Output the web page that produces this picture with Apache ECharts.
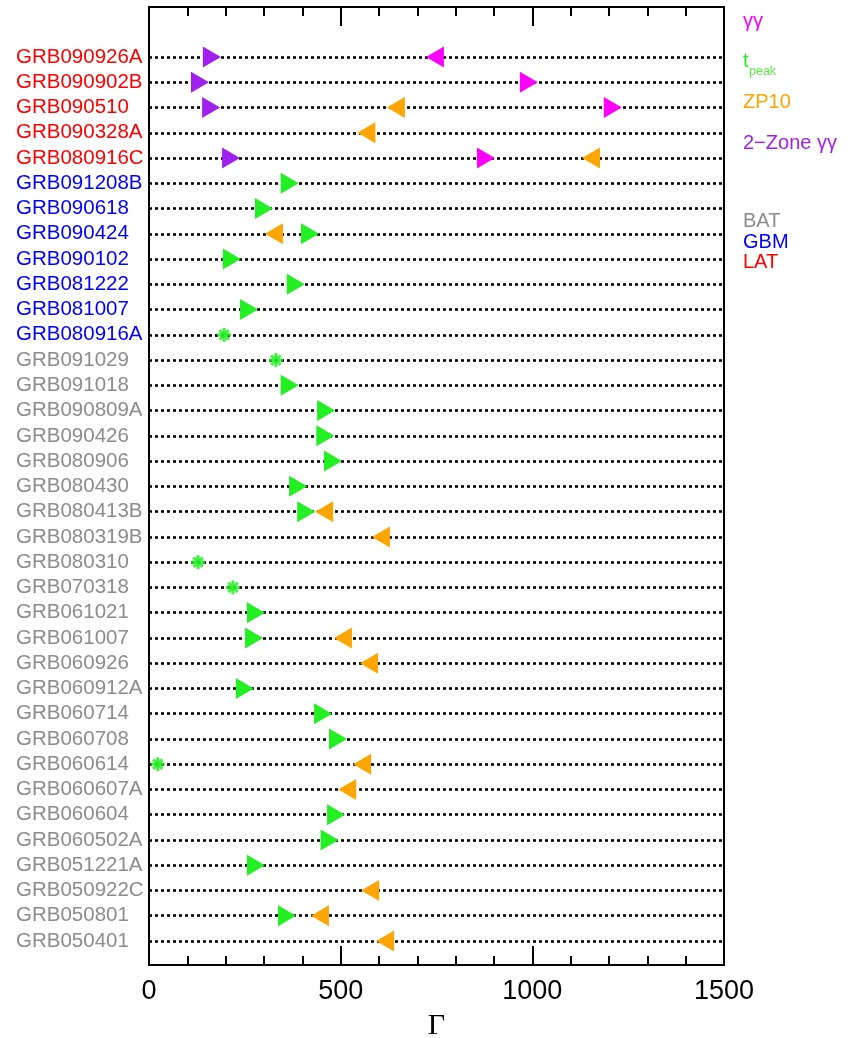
<!DOCTYPE html>
<html>
<head>
<meta charset="utf-8">
<script src="https://cdn.jsdelivr.net/npm/echarts@6/dist/echarts.min.js"></script>
<style>
html,body{margin:0;padding:0;background:#fff;}
#c{width:850px;height:1038px;}
</style>
</head>
<body>
<div id="c"></div>
<script>
// ---- data ----
const grbs = ['GRB090926A','GRB090902B','GRB090510','GRB090328A','GRB080916C',
  'GRB091208B','GRB090618','GRB090424','GRB090102','GRB081222','GRB081007','GRB080916A',
  'GRB091029','GRB091018','GRB090809A','GRB090426','GRB080906','GRB080430','GRB080413B',
  'GRB080319B','GRB080310','GRB070318','GRB061021','GRB061007','GRB060926','GRB060912A',
  'GRB060714','GRB060708','GRB060614','GRB060607A','GRB060604','GRB060502A','GRB051221A',
  'GRB050922C','GRB050801','GRB050401'];
const instrument = ['LAT','LAT','LAT','LAT','LAT',
  'GBM','GBM','GBM','GBM','GBM','GBM','GBM',
  'BAT','BAT','BAT','BAT','BAT','BAT','BAT','BAT','BAT','BAT','BAT','BAT','BAT','BAT',
  'BAT','BAT','BAT','BAT','BAT','BAT','BAT','BAT','BAT','BAT'];
const instrumentColor = {BAT:'#8c8c8c', GBM:'#0000ff', LAT:'#ff0000'};

// gamma-gamma: lower limits (right-pointing) and upper limits (left-pointing)
const ggLower = [['GRB090902B',991],['GRB090510',1210],['GRB080916C',879]];
const ggUpper = [['GRB090926A',746]];
// t_peak: lower limits and measurements
const tpeakLower = [['GRB091208B',367],['GRB090618',300],['GRB090424',420],['GRB090102',216],
  ['GRB081222',383],['GRB081007',261],['GRB091018',367],['GRB090809A',462],['GRB090426',460],
  ['GRB080906',480],['GRB080430',389],['GRB080413B',410],['GRB061021',279],['GRB061007',274],
  ['GRB060912A',250],['GRB060714',454],['GRB060708',493],['GRB060604',488],['GRB060502A',471],
  ['GRB051221A',279],['GRB050801',360]];
const tpeakValue = [['GRB080916A',196],['GRB091029',331],['GRB080310',128],['GRB070318',219],['GRB060614',23]];
// ZP10 upper limits
const zp10Upper = [['GRB090510',644],['GRB090328A',567],['GRB080916C',1153],['GRB090424',326],
  ['GRB080413B',457],['GRB080319B',605],['GRB061007',506],['GRB060926',574],['GRB060614',556],
  ['GRB060607A',517],['GRB050922C',577],['GRB050801',446],['GRB050401',616]];
// 2-zone gamma-gamma lower limits
const zone2Lower = [['GRB090926A',164],['GRB090902B',133],['GRB090510',162],['GRB080916C',214]];

const xTicks = [0, 500, 1000, 1500];

// ---- chart ----
const C_GG = '#ff00ff', C_TP = '#22f022', C_ZP = '#ffa500', C_2Z = '#a020f0';
const FONT = 'Liberation Sans, Arial, Helvetica, sans-serif';
const asterisk = 'path://M0,4.1L10,4.1L10,5.9L0,5.9Z M4.1,0L5.9,0L5.9,10L4.1,10Z M0.9,2.2L2.2,0.9L9.1,7.8L7.8,9.1Z M7.8,0.9L9.1,2.2L2.2,9.1L0.9,7.8Z';

function toPts(arr){ return arr.map(d => [d[1], d[0]]); }
function tri(name, arr, color, right){
  return {
    name: name, type: 'scatter', xAxisIndex: 2, yAxisIndex: 1,
    data: toPts(arr), symbol: 'triangle', symbolSize: [21, 18],
    symbolRotate: right ? -90 : 90,
    itemStyle: {color: color, opacity: 1}, z: 5, silent: true
  };
}

const chart = echarts.init(document.getElementById('c'), null, {renderer: 'canvas'});
const tickCommon = {
  min: 0, max: 1500, interval: 500,
  axisLine: {show: false},
  axisTick: {show: true, inside: true, length: 19, lineStyle: {color: '#000', width: 2}},
  minorTick: {show: true, splitNumber: 5, length: 9, lineStyle: {color: '#000', width: 2}},
  splitLine: {show: false}
};
chart.setOption({
  animation: false,
  backgroundColor: '#fff',
  grid: [
    {left: 149, right: 126, top: 7, bottom: 73, show: true, borderColor: '#000', borderWidth: 2,
      backgroundColor: 'transparent', containLabel: false, outerBoundsMode: 'none'},
    {left: 149, right: 126, top: 57, bottom: 97, containLabel: false, outerBoundsMode: 'none'}
  ],
  xAxis: [
    Object.assign({type: 'value', gridIndex: 0, position: 'bottom',
      axisLabel: {show: true, fontSize: 27, color: '#000', fontFamily: FONT, margin: 13,
        formatter: v => xTicks.indexOf(v) >= 0 ? String(v) : ''},
      name: 'Γ', nameLocation: 'middle', nameGap: 46,
      nameTextStyle: {fontSize: 30, color: '#000', fontFamily: 'Liberation Serif, Times New Roman, serif'}
    }, tickCommon),
    Object.assign({type: 'value', gridIndex: 0, position: 'top', axisLabel: {show: false}}, tickCommon),
    {type: 'value', gridIndex: 1, min: 0, max: 1500, show: false}
  ],
  yAxis: [
    {type: 'value', gridIndex: 0, show: false, min: 0, max: 1},
    {type: 'category', gridIndex: 1, data: grbs, inverse: true, boundaryGap: false,
      axisLine: {show: false}, axisTick: {show: false},
      splitLine: {show: true, lineStyle: {color: '#000', width: 2.6, type: [3, 3]}},
      axisLabel: {show: true, interval: 0, align: 'left', margin: 133, fontSize: 20.5,
        fontFamily: FONT, padding: [0, 0, 14, 0],
        color: (v, i) => instrumentColor[instrument[grbs.indexOf(v)]]}
    }
  ],
  series: [
    tri('γγ', ggLower, C_GG, true),
    tri('γγ up', ggUpper, C_GG, false),
    tri('tpeak', tpeakLower, C_TP, true),
    {name: 'tpeak meas', type: 'scatter', xAxisIndex: 2, yAxisIndex: 1, data: toPts(tpeakValue),
      symbol: asterisk, symbolSize: 13, itemStyle: {color: C_TP, borderColor: C_TP, borderWidth: 0.8}, z: 5, silent: true},
    tri('ZP10', zp10Upper, C_ZP, false),
    tri('2-Zone', zone2Lower, C_2Z, true)
  ],
  graphic: [
    {type: 'text', left: 743, top: 11, style: {text: 'γγ', fontSize: 20, fill: C_GG, fontFamily: FONT}},
    {type: 'text', left: 743, top: 51, style: {text: 't', fontSize: 20, fill: C_TP, fontFamily: FONT}},
    {type: 'text', left: 749, top: 65, style: {text: 'peak', fontSize: 12.5, fill: '#55f040', fontFamily: FONT}},
    {type: 'text', left: 743, top: 92, style: {text: 'ZP10', fontSize: 20, fill: C_ZP, fontFamily: FONT}},
    {type: 'text', left: 743, top: 133, style: {text: '2−Zone γγ', fontSize: 20, fill: C_2Z, fontFamily: FONT}},
    {type: 'text', left: 743, top: 211, style: {text: 'BAT', fontSize: 20, fill: instrumentColor.BAT, fontFamily: FONT}},
    {type: 'text', left: 743, top: 232, style: {text: 'GBM', fontSize: 20, fill: instrumentColor.GBM, fontFamily: FONT}},
    {type: 'text', left: 743, top: 252, style: {text: 'LAT', fontSize: 20, fill: instrumentColor.LAT, fontFamily: FONT}}
  ]
});
</script>
</body>
</html>
